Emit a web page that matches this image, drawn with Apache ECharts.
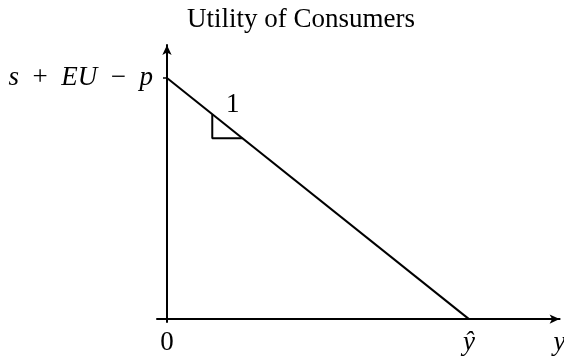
<!DOCTYPE html>
<html>
<head>
<meta charset="utf-8">
<script src="https://cdn.jsdelivr.net/npm/echarts@6/dist/echarts.min.js"></script>
<style>
  html, body { margin: 0; padding: 0; background: #fff; }
  #chart { width: 564px; height: 358px; }
</style>
</head>
<body>
<div id="chart"></div>
<script>
// budget line: utility falls 1:1 with y, from s+EU-p at y=0 to zero at y-hat
const lineX = [0, 1];
const lineY = [1, 0];
// slope triangle under the line
const triX = [0.15, 0.15, 0.25];
const triY = [0.85, 0.75, 0.75];
const slopeLabel = ['1'];
const slopeLabelPos = [[0.218, 0.89]];
// tick labels
const xTickValues = [0, 1, 1.3];
const xTickLabels = ['0', 'ŷ', 'y'];
const yTickValues = [1];
const titleText = 'Utility of Consumers';

const FONT = '"Liberation Serif", "DejaVu Serif", serif';
const FS = 27;

const chart = echarts.init(document.getElementById('chart'));

chart.setOption({
  animation: false,
  backgroundColor: '#fff',
  title: {
    text: titleText,
    left: 182, top: 1,
    textStyle: { fontFamily: FONT, fontSize: FS, fontWeight: 'normal', color: '#000' }
  },
  grid: { left: 157, right: 4.4, top: 45, bottom: 36, outerBoundsMode: 'none', containLabel: false },
  xAxis: {
    type: 'value', min: -0.033, max: 1.3,
    splitLine: { show: false },
    axisLine: {
      onZero: true, symbol: ['none', 'arrow'], symbolSize: [7, 10],
      lineStyle: { color: '#000', width: 2 }
    },
    axisTick: { show: false },
    axisLabel: {
      customValues: xTickValues,
      formatter: v => {
        const i = xTickValues.indexOf(v);
        if (i < 0) return '';
        return i === 0 ? xTickLabels[i] : '{it|' + xTickLabels[i] + '}';
      },
      margin: 7,
      color: '#000', fontFamily: FONT, fontSize: FS,
      rich: { it: { fontStyle: 'italic', fontFamily: FONT, fontSize: FS, color: '#000' } }
    }
  },
  yAxis: {
    type: 'value', min: -0.012, max: 1.137,
    splitLine: { show: false },
    axisLine: {
      onZero: true, symbol: ['none', 'arrow'], symbolSize: [7, 10],
      lineStyle: { color: '#000', width: 2 }
    },
    axisTick: {
      customValues: yTickValues, length: 4,
      lineStyle: { color: '#000', width: 1.5 }
    },
    axisLabel: {
      customValues: yTickValues,
      formatter: () => '{it|s}  +  {it|EU}  −  {it|p}',
      margin: 4,
      color: '#000', fontFamily: FONT, fontSize: FS,
      rich: { it: { fontStyle: 'italic', fontFamily: FONT, fontSize: FS, color: '#000' } }
    }
  },
  series: [
    {
      type: 'line',
      data: lineX.map((x, i) => [x, lineY[i]]),
      symbol: 'none',
      lineStyle: { color: '#000', width: 2 }
    },
    {
      type: 'line',
      data: triX.map((x, i) => [x, triY[i]]),
      symbol: 'none',
      lineStyle: { color: '#000', width: 2 }
    },
    {
      type: 'scatter',
      data: slopeLabelPos,
      symbolSize: 0,
      itemStyle: { opacity: 1 },
      label: {
        show: true, position: 'inside',
        formatter: p => slopeLabel[p.dataIndex],
        color: '#000', fontFamily: FONT, fontSize: FS
      }
    }
  ]
});
</script>
</body>
</html>
